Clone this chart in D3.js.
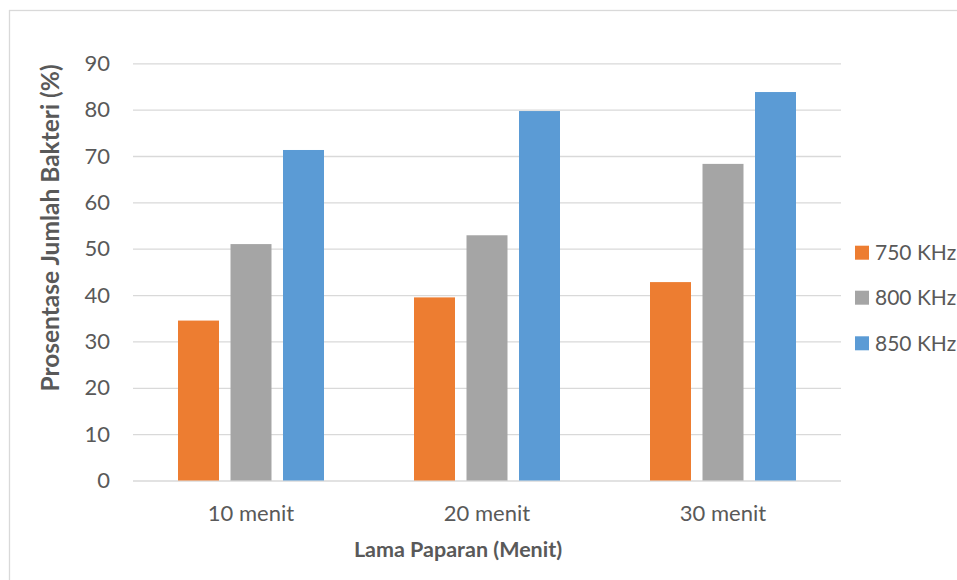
<!DOCTYPE html>
<html>
<head>
<meta charset="utf-8">
<script src="https://cdn.jsdelivr.net/npm/d3@7"></script>
<style>
  html, body { margin: 0; padding: 0; background: #fff; }
  svg { display: block; }
  text { font-family: Lato, "Open Sans", sans-serif; fill: #595959; }
</style>
</head>
<body>
<svg id="chart" width="957" height="580"></svg>
<script>
const categories = ["10 menit", "20 menit", "30 menit"];
const seriesNames = ["750 KHz", "800 KHz", "850 KHz"];
const values750 = [34.5, 39.5, 42.8];
const values800 = [51.0, 52.9, 68.3];
const values850 = [71.3, 79.7, 83.8];
const yTicks = [0, 10, 20, 30, 40, 50, 60, 70, 80, 90];
const colors = ["#ED7D31", "#A5A5A5", "#5B9BD5"];
const seriesValues = [values750, values800, values850];

const svg = d3.select("#chart");
const W = 957, H = 580;
const plot = { left: 133, right: 841, top: 63.3, bottom: 480.5 };

// outer frame
svg.append("rect")
  .attr("x", 9.5).attr("y", 10.5)
  .attr("width", W + 10).attr("height", H + 10)
  .attr("fill", "#fff").attr("stroke", "#D9D9D9").attr("stroke-width", 1.3);

const x0 = d3.scaleBand().domain(categories).range([plot.left, plot.right]).paddingInner(0).paddingOuter(0);
const y = d3.scaleLinear().domain([0, 90]).range([plot.bottom, plot.top]);

const barW = 41, gap = 11.5;
const groupW = barW * 3 + gap * 2;
const x1 = d3.scaleOrdinal().domain(seriesNames)
  .range(seriesNames.map((s, i) => (x0.bandwidth() - groupW) / 2 + i * (barW + gap)));

// gridlines
const yAxis = d3.axisLeft(y).tickValues(yTicks).tickSize(-(plot.right - plot.left)).tickPadding(23);
const gy = svg.append("g").attr("transform", `translate(${plot.left},0)`).call(yAxis);
gy.select(".domain").remove();
gy.selectAll(".tick line").attr("stroke", "#D9D9D9").attr("stroke-width", 1.3);
gy.selectAll(".tick text").attr("font-size", 22).attr("fill", "#595959")
  .attr("font-family", "Lato, sans-serif");

// bars
const data = [];
categories.forEach((c, ci) => {
  seriesNames.forEach((s, si) => data.push({ c, s, si, v: seriesValues[si][ci] }));
});
svg.append("g").selectAll("rect").data(data).join("rect")
  .attr("x", d => x0(d.c) + x1(d.s))
  .attr("y", d => y(d.v))
  .attr("width", barW)
  .attr("height", d => y(0) - y(d.v))
  .attr("fill", d => colors[d.si]);

// x axis labels
const xAxis = d3.axisBottom(x0).tickSize(0).tickPadding(0);
const gx = svg.append("g").attr("transform", `translate(0,${plot.bottom})`).call(xAxis);
gx.select(".domain").remove();
gx.selectAll(".tick text").attr("font-size", 22).attr("fill", "#595959")
  .attr("font-family", "Lato, sans-serif").attr("dy", null).attr("y", 40);

// axis titles
svg.append("text")
  .attr("x", 458).attr("y", 557)
  .attr("text-anchor", "middle")
  .attr("font-size", 21.5).attr("font-weight", "bold")
  .text("Lama Paparan (Menit)");

svg.append("text")
  .attr("transform", "translate(59,228) rotate(-90)")
  .attr("text-anchor", "middle")
  .attr("font-size", 24.5).attr("font-weight", "bold")
  .text("Prosentase Jumlah Bakteri (%)");

// legend
const legendY = [252.7, 297.7, 343.3];
const lg = svg.append("g").selectAll("g").data(seriesNames).join("g")
  .attr("transform", (d, i) => `translate(855,${legendY[i]})`);
lg.append("rect").attr("x", 0).attr("y", -7).attr("width", 14).attr("height", 14)
  .attr("fill", (d, i) => colors[i]);
lg.append("text").attr("x", 20).attr("y", 0).attr("dy", "0.36em")
  .attr("font-size", 21).text(d => d);
</script>
</body>
</html>
